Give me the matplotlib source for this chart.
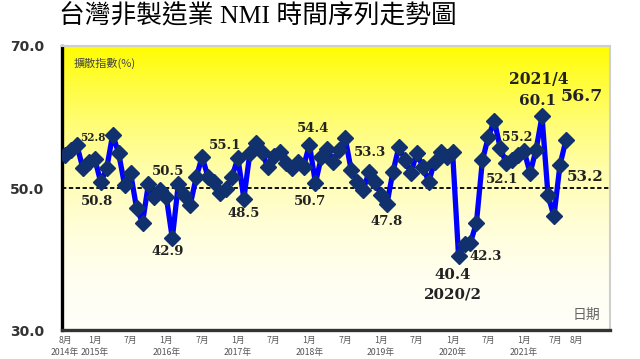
import matplotlib.pyplot as plt
import numpy as np

# 台灣非製造業 NMI，2014/8 ~ 2021/8 (逐月)
nmi = [54.6, 55.3, 56.0, 52.8, 53.7, 54.1, 50.8, 52.8, 57.5, 54.9,
       50.4, 52.1, 47.2, 45.1, 50.6, 48.7, 49.7, 48.7, 42.9, 50.5,
       49.0, 47.6, 51.5, 54.4, 51.5, 50.8, 49.3, 49.8, 51.6, 54.2,
       48.5, 54.9, 56.3, 55.0, 53.0, 54.5, 55.1, 53.5, 52.8, 53.7,
       53.0, 56.1, 50.7, 54.4, 55.5, 53.7, 55.3, 57.0, 52.5, 50.9,
       49.7, 52.3, 50.9, 49.0, 47.8, 52.3, 55.8, 54.0, 52.1, 54.9,
       53.0, 50.9, 53.7, 55.1, 54.4, 55.1, 40.4, 42.1, 42.3, 45.1,
       53.9, 57.2, 59.5, 55.6, 53.5, 53.9, 54.6, 55.2, 52.1, 55.4,
       60.1, 49.0, 46.0, 53.2, 56.7]
months = np.arange(len(nmi))

# x 軸刻度 (月份索引, 文字)
tick_idx = [0, 5, 11, 17, 23, 29, 35, 41, 47, 53, 59, 65, 71, 77, 83, 84]
tick_txt = ["8月\n2014年", "1月\n2015年", "7月", "1月\n2016年", "7月",
            "1月\n2017年", "7月", "1月\n2018年", "7月", "1月\n2019年", "7月",
            "1月\n2020年", "7月", "1月\n2021年", "7月", "8月"]

# 標註文字: (文字, x, y, 字級)
notes = [("52.8", 4.7, 57.1, 7.6), ("50.8", 5.4, 48.1, 9.5),
         ("50.5", 17.3, 52.3, 9.5), ("42.9", 17.3, 41.1, 9.5),
         ("55.1", 26.8, 56.0, 9.5), ("48.5", 29.9, 46.4, 9.5),
         ("54.4", 41.6, 58.4, 9.5), ("50.7", 41.1, 48.1, 9.5),
         ("53.3", 51.2, 55.0, 9.5), ("47.8", 54.0, 45.3, 9.5),
         ("40.4", 65.1, 37.7, 10.8), ("2020/2", 65.1, 35.0, 10.8),
         ("42.3", 70.6, 40.4, 9.5), ("52.1", 73.3, 51.2, 9.5),
         ("55.2", 75.8, 57.1, 9.0), ("2021/4", 79.4, 65.3, 11.2),
         ("60.1", 79.2, 62.2, 11.0), ("56.7", 86.7, 62.9, 12.5),
         ("53.2", 87.2, 51.5, 10.8)]

fig = plt.figure(figsize=(6.4, 3.59), dpi=100)
ax = fig.add_axes([62 / 640, 1 - 330 / 359, 548 / 640, 284 / 359])

# 黃色漸層背景
t = np.linspace(0, 1, 256)
blue = 1 - (1 - t) ** 2.0
grad = np.stack([np.ones_like(t), 0.99 + 0.01 * t, blue * 0.97], axis=1)[:, None, :]
ax.imshow(grad, extent=[0, 1, 0, 1], transform=ax.transAxes,
          aspect='auto', zorder=0)

ax.axhline(50, color='black', ls=(0, (2.4, 1.4)), lw=1.3, zorder=1)
ax.plot(months, nmi, color='#0000ff', lw=3.8, zorder=2)
ax.plot(months, nmi, ls='none', marker='D', ms=8.3, color='#10306e',
        mec='#10306e', zorder=3)

ax.set_xlim(-0.5, 91.4)
ax.set_ylim(30, 70)

pos = [float(i) for i in tick_idx]
pos[-2] -= 0.8
pos[-1] += 1.7
ax.set_xticks(pos)
ax.set_xticklabels(tick_txt, fontsize=6.3, color='#555555', linespacing=1.45,
                   family=['Noto Sans CJK TC', 'DejaVu Sans'])
ax.set_yticks([30, 50, 70])
ax.set_yticklabels(['30.0', '50.0', '70.0'], fontsize=10, fontweight='bold',
                   color='#333333')
ax.tick_params(axis='x', length=0, pad=4)
ax.tick_params(axis='y', length=0, pad=13)

ax.spines['left'].set_linewidth(2.4)
ax.spines['left'].set_color('black')
ax.spines['bottom'].set_linewidth(2.4)
ax.spines['bottom'].set_color('#333333')
for s in ['top', 'right']:
    ax.spines[s].set_color('#cfcfcf')
    ax.spines[s].set_linewidth(1.5)

for txt, x, y, fs in notes:
    ax.text(x, y, txt, ha='center', va='center', fontsize=fs,
            fontweight='bold', family='DejaVu Serif', color='#222222', zorder=4)

ax.text(0.022, 0.937, '擴散指數(%)', transform=ax.transAxes, fontsize=8,
        color='#444444', ha='left', va='center',
        family=['Noto Sans CJK TC', 'DejaVu Sans'])
ax.text(0.982, 0.053, '日期', transform=ax.transAxes, fontsize=10,
        color='#666666', ha='right', va='center', family='Noto Sans CJK TC')

fig.text(258 / 640, 1 - 16 / 359, '台灣非製造業 NMI 時間序列走勢圖',
         ha='center', va='center', fontsize=18.5,
         family=['Liberation Serif', 'Noto Sans CJK TC'])

fig.savefig('out.png', dpi=100)
